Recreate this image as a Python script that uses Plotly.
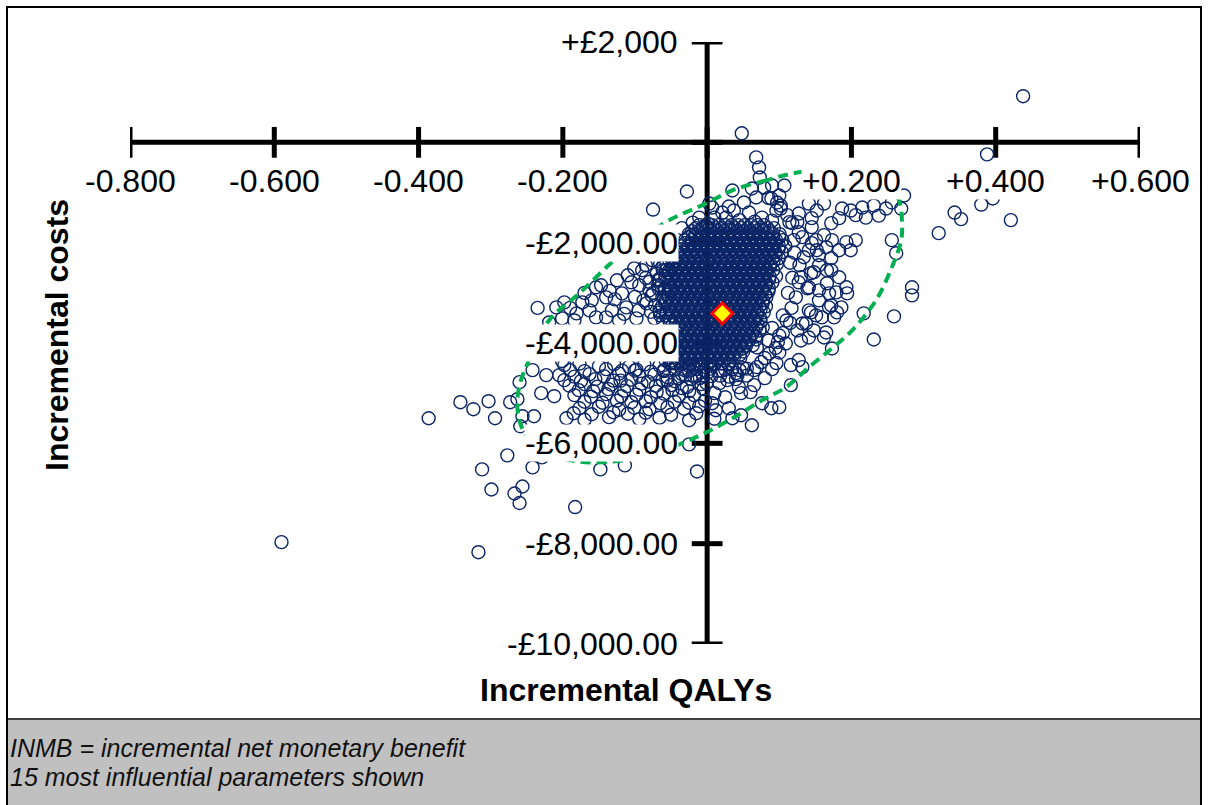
import plotly.graph_objects as go

# ---------------- data ----------------
# sparse points, upper / right part of the cloud
upper_qaly = [0.438, 0.048, 0.388, 0.068, 0.072, 0.073, 0.062, -0.028, 0.035, 0.090,
              0.107, 0.100, 0.085, 0.273, 0.396, 0.068, 0.097, 0.051, 0.003, 0.141,
              0.162, 0.256, 0.380, 0.102, -0.075, 0.187, 0.199, 0.231, 0.269, 0.343,
              0.238, 0.152, 0.206, 0.352, 0.421, 0.127, 0.220, 0.321, 0.248, 0.215]
upper_cost = [920, 180, -240, -300, -500, -700, -920, -980, -960, -860,
              -860, -1060, -1110, -1060, -1120, -1100, -1200, -1200, -1220, -1220,
              -1220, -1200, -1240, -1320, -1340, -1320, -1360, -1260, -1320, -1400,
              -1460, -1360, -1450, -1530, -1550, -1420, -1500, -1810, -1320, -1300]

right_qaly = [0.183, 0.172, 0.145, 0.114, 0.145, 0.162, 0.173, 0.193, 0.206, 0.199,
              0.183, 0.165, 0.151, 0.132, 0.172, 0.155, 0.141, 0.256, 0.262, 0.284,
              0.284, 0.259, 0.217, 0.172, 0.183, 0.193, 0.179, 0.194, 0.166, 0.148,
              0.130, 0.141, 0.123, 0.155, 0.141, 0.172, 0.176, 0.231, 0.173, 0.165,
              0.180, 0.125, 0.127, 0.145, 0.152, 0.134, 0.155, 0.166, 0.144, 0.127,
              0.139, 0.155, 0.169, 0.169, 0.186, 0.159, 0.144, 0.132, 0.148, 0.162,
              0.130, 0.115, 0.118, 0.112, 0.117, 0.110, 0.105, 0.098, 0.125, 0.137,
              0.141, 0.109, 0.100, 0.086, 0.069, 0.151, 0.090, 0.100, 0.085, 0.095,
              0.080, 0.115, 0.105, 0.121, 0.128, 0.120]
right_cost = [-1510, -1610, -1510, -1590, -1690, -1850, -1950, -1990, -1950, -2150,
              -2150, -2090, -1950, -1890, -2310, -2250, -2150, -1950, -2210, -2890,
              -3050, -3470, -3410, -2550, -2690, -2890, -2990, -3010, -2810, -2590,
              -2690, -2890, -3090, -3150, -3350, -3250, -3490, -3930, -4110, -3790,
              -3390, -1590, -1790, -2010, -2150, -2290, -2450, -2550, -2610, -2790,
              -2910, -2950, -3010, -3290, -3290, -3490, -3390, -3610, -3750, -3890,
              -3950, -2400, -2700, -3000, -3300, -3550, -3800, -3980, -3750, -3610,
              -3890, -4010, -4190, -4210, -4090, -3450, -3700, -3850, -3950, -4100,
              -4300, -3600, -3450, -2200, -2450, -1950]

lower_right_qaly = [0.116, 0.100, 0.089, 0.076, 0.062, 0.047, 0.035, 0.012, 0.007, 0.065,
                    0.069, 0.096, 0.116, 0.127, 0.132, 0.065, 0.044, 0.047, 0.028, 0.017,
                    -0.001, 0.010, 0.075, 0.090, 0.055, 0.040, 0.025, 0.060, 0.080, 0.030]
lower_right_cost = [-4840, -5280, -5300, -5200, -5640, -5440, -5500, -5340, -5200, -4540,
                    -4480, -4400, -4440, -4340, -4480, -4840, -4880, -5000, -4740, -4800,
                    -4800, -5000, -4380, -4520, -4650, -4720, -5080, -4980, -4700, -5300]

top_qaly = [0.058, 0.079, 0.089, 0.102, 0.096, 0.037, 0.021, 0.010, 0.076, 0.111,
            0.118, -0.011, -0.035, 0.007, 0.026, 0.045, 0.066, 0.090, -0.020, 0.001,
            0.030]
top_cost = [-1400, -900, -1120, -1260, -1360, -1360, -1400, -1500, -1500, -1450,
            -1610, -1500, -1710, -1300, -1500, -1550, -1580, -1560, -1600, -1620,
            -1280]

left_sparse_qaly = [-0.386, -0.342, -0.324, -0.303, -0.294, -0.273, -0.263, -0.260, -0.256, -0.240,
                    -0.259, -0.230, -0.212, -0.242, -0.223, -0.277, -0.312, -0.242, -0.299, -0.267,
                    -0.256, -0.260, -0.590, -0.317, -0.183, -0.201, -0.229, -0.148, -0.114, -0.025,
                    -0.014]
left_sparse_cost = [-5500, -5180, -5320, -5160, -5500, -5180, -5120, -4780, -5460, -5460,
                    -5660, -5000, -5060, -4540, -4640, -6240, -6520, -6480, -6920, -7000,
                    -6860, -7190, -7970, -8170, -7270, -4360, -6280, -6520, -6440, -6020,
                    -6560]

left_band_qaly = [-0.219, -0.209, -0.198, -0.173, -0.163, -0.154, -0.147, -0.140, -0.125, -0.118,
                  -0.101, -0.105, -0.090, -0.094, -0.076, -0.066, -0.057, -0.053, -0.112, -0.132,
                  -0.084, -0.066, -0.154, -0.181, -0.140, -0.122, -0.098, -0.184, -0.201, -0.080,
                  -0.073, -0.128, -0.077, -0.110, -0.135, -0.085, -0.235, -0.170, -0.190, -0.160,
                  -0.115, -0.095, -0.085, -0.065, -0.100,
                  -0.062, -0.070, -0.068, -0.075, -0.072, -0.065, -0.080, -0.088, -0.078]
left_band_cost = [-3590, -3290, -3190, -3190, -3350, -2890, -2850, -3090, -2750, -3010,
                  -2510, -2790, -2550, -2850, -2350, -2750, -2550, -2950, -3290, -3350,
                  -3210, -3350, -3490, -3410, -3490, -3550, -3510, -3550, -3510, -2950,
                  -3510, -3130, -3050, -2650, -2960, -2700, -3300, -3000, -3300, -3150,
                  -3420, -3350, -2450, -2420, -3080,
                  -2480, -2620, -2850, -3000, -3250, -3450, -2780, -3150, -3380]

lower_left_qaly = [-0.198, -0.177, -0.150, -0.129, -0.108, -0.087, -0.066, -0.046, -0.025, -0.011,
                   -0.205, -0.184, -0.163, -0.143, -0.122, -0.094, -0.073, -0.055, -0.035, -0.015,
                   -0.191, -0.170, -0.152, -0.133, -0.111, -0.091, -0.071, -0.050, -0.028, -0.008,
                   -0.184, -0.161, -0.140, -0.119, -0.098, -0.078, -0.060, -0.039, -0.018,
                   -0.177, -0.150, -0.122, -0.101, -0.080, -0.055, -0.032, -0.011,
                   -0.195, -0.170, -0.136, -0.094, -0.066, -0.025, 0.010,
                   -0.050, -0.030, -0.060, -0.040, -0.020, 0.000, 0.005, 0.020, 0.030, 0.040,
                   0.050, -0.010, -0.055, -0.035, -0.100, -0.120,
                   -0.190, -0.170, -0.140, -0.118, -0.098, -0.078, -0.060,
                   -0.198, -0.175, -0.155, -0.130, -0.105, -0.082, -0.062, -0.045, -0.022,
                   -0.178, -0.158, -0.137, -0.115, -0.094, -0.070, -0.048, -0.025, -0.005,
                   -0.170, -0.145, -0.125, -0.105, -0.085, -0.065, -0.045, -0.025, -0.003,
                   -0.185, -0.160, -0.130, -0.110, -0.085, -0.050, -0.015,
                   -0.045, -0.035, -0.025, -0.015, -0.005, 0.005, 0.015, 0.025, 0.035, 0.045, 0.055,
                   -0.030, -0.018, -0.006, 0.006, 0.018, 0.030, 0.042]
lower_left_cost = [-4440, -4410, -4460, -4420, -4470, -4430, -4450, -4400, -4460, -4420,
                   -4640, -4670, -4620, -4660, -4610, -4650, -4630, -4680, -4620, -4660,
                   -4850, -4820, -4870, -4830, -4860, -4810, -4850, -4840, -4880, -4820,
                   -5040, -5070, -5020, -5060, -5030, -5080, -5010, -5050, -5040,
                   -5300, -5270, -5330, -5290, -5320, -5280, -5310, -5260,
                   -5500, -5530, -5480, -5520, -5490, -5540, -5510,
                   -4400, -4550, -4560, -4700, -4450, -4600, -4450, -4550, -4420, -4600,
                   -4500, -4700, -4750, -4900, -4550, -4750,
                   -4540, -4560, -4520, -4550, -4530, -4570, -4540,
                   -4740, -4760, -4720, -4750, -4730, -4770, -4740, -4760, -4720,
                   -4940, -4960, -4920, -4950, -4930, -4970, -4940, -4960, -4920,
                   -5170, -5190, -5150, -5180, -5160, -5200, -5170, -5190, -5150,
                   -5400, -5420, -5380, -5410, -5390, -5430, -5400,
                   -4530, -4510, -4550, -4520, -4540, -4510, -4550, -4530, -4520, -4540, -4510,
                   -4650, -4670, -4640, -4660, -4650, -4670, -4640]

# dense core of the cloud, row by row (cost of the row, QALYs along the row)
core_row_cost = [-1650, -1710, -1770, -1830, -1890, -1950, -2010, -2070, -2130, -2190,
                 -2250, -2310, -2370, -2430, -2490, -2550, -2610, -2670, -2730, -2790,
                 -2850, -2910, -2970, -3030, -3090, -3150, -3210, -3270, -3330, -3390,
                 -3450, -3510, -3570, -3630, -3690, -3750, -3810, -3870, -3930, -3990,
                 -4050, -4110, -4170, -4230, -4290, -4350, -4410]
core_row_qaly = [
    [-0.011, -0.002, 0.007, 0.016, 0.025, 0.034, 0.043, 0.052, 0.061, 0.070, 0.079],
    [-0.0155, -0.0065, 0.0025, 0.0115, 0.0205, 0.0295, 0.0385, 0.0475, 0.0565, 0.0655, 0.0745, 0.0835, 0.0925],
    [-0.021, -0.012, -0.003, 0.006, 0.015, 0.024, 0.033, 0.042, 0.051, 0.060, 0.069, 0.078, 0.087],
    [-0.0255, -0.0165, -0.0075, 0.0015, 0.0105, 0.0195, 0.0285, 0.0375, 0.0465, 0.0555, 0.0645, 0.0735, 0.0825, 0.0915, 0.1005],
    [-0.026, -0.017, -0.008, 0.001, 0.010, 0.019, 0.028, 0.037, 0.046, 0.055, 0.064, 0.073, 0.082, 0.091, 0.100],
    [-0.0305, -0.0215, -0.0125, -0.0035, 0.0055, 0.0145, 0.0235, 0.0325, 0.0415, 0.0505, 0.0595, 0.0685, 0.0775, 0.0865, 0.0955, 0.1045],
    [-0.031, -0.022, -0.013, -0.004, 0.005, 0.014, 0.023, 0.032, 0.041, 0.050, 0.059, 0.068, 0.077, 0.086, 0.095],
    [-0.0355, -0.0265, -0.0175, -0.0085, 0.0005, 0.0095, 0.0185, 0.0275, 0.0365, 0.0455, 0.0545, 0.0635, 0.0725, 0.0815, 0.0905, 0.0995, 0.1085],
    [-0.036, -0.027, -0.018, -0.009, 0.000, 0.009, 0.018, 0.027, 0.036, 0.045, 0.054, 0.063, 0.072, 0.081, 0.090, 0.099],
    [-0.0405, -0.0315, -0.0225, -0.0135, -0.0045, 0.0045, 0.0135, 0.0225, 0.0315, 0.0405, 0.0495, 0.0585, 0.0675, 0.0765, 0.0855, 0.0945, 0.1035],
    [-0.040, -0.031, -0.022, -0.013, -0.004, 0.005, 0.014, 0.023, 0.032, 0.041, 0.050, 0.059, 0.068, 0.077, 0.086, 0.095],
    [-0.0445, -0.0355, -0.0265, -0.0175, -0.0085, 0.0005, 0.0095, 0.0185, 0.0275, 0.0365, 0.0455, 0.0545, 0.0635, 0.0725, 0.0815, 0.0905, 0.0995],
    [-0.052, -0.043, -0.034, -0.025, -0.016, -0.007, 0.002, 0.011, 0.020, 0.029, 0.038, 0.047, 0.056, 0.065, 0.074, 0.083, 0.092],
    [-0.0565, -0.0475, -0.0385, -0.0295, -0.0205, -0.0115, -0.0025, 0.0065, 0.0155, 0.0245, 0.0335, 0.0425, 0.0515, 0.0605, 0.0695, 0.0785, 0.0875, 0.0965],
    [-0.048, -0.039, -0.030, -0.021, -0.012, -0.003, 0.006, 0.015, 0.024, 0.033, 0.042, 0.051, 0.060, 0.069, 0.078, 0.087],
    [-0.0615, -0.0525, -0.0435, -0.0345, -0.0255, -0.0165, -0.0075, 0.0015, 0.0105, 0.0195, 0.0285, 0.0375, 0.0465, 0.0555, 0.0645, 0.0735, 0.0825, 0.0915],
    [-0.053, -0.044, -0.035, -0.026, -0.017, -0.008, 0.001, 0.010, 0.019, 0.028, 0.037, 0.046, 0.055, 0.064, 0.073, 0.082],
    [-0.0575, -0.0485, -0.0395, -0.0305, -0.0215, -0.0125, -0.0035, 0.0055, 0.0145, 0.0235, 0.0325, 0.0415, 0.0505, 0.0595, 0.0685, 0.0775, 0.0865, 0.0955],
    [-0.067, -0.058, -0.049, -0.040, -0.031, -0.022, -0.013, -0.004, 0.005, 0.014, 0.023, 0.032, 0.041, 0.050, 0.059, 0.068, 0.077, 0.086],
    [-0.0535, -0.0445, -0.0355, -0.0265, -0.0175, -0.0085, 0.0005, 0.0095, 0.0185, 0.0275, 0.0365, 0.0455, 0.0545, 0.0635, 0.0725, 0.0815, 0.0905],
    [-0.054, -0.045, -0.036, -0.027, -0.018, -0.009, 0.000, 0.009, 0.018, 0.027, 0.036, 0.045, 0.054, 0.063, 0.072, 0.081],
    [-0.0675, -0.0585, -0.0495, -0.0405, -0.0315, -0.0225, -0.0135, -0.0045, 0.0045, 0.0135, 0.0225, 0.0315, 0.0405, 0.0495, 0.0585, 0.0675, 0.0765, 0.0855],
    [-0.059, -0.050, -0.041, -0.032, -0.023, -0.014, -0.005, 0.004, 0.013, 0.022, 0.031, 0.040, 0.049, 0.058, 0.067, 0.076, 0.085],
    [-0.0545, -0.0455, -0.0365, -0.0275, -0.0185, -0.0095, -0.0005, 0.0085, 0.0175, 0.0265, 0.0355, 0.0445, 0.0535, 0.0625, 0.0715, 0.0805],
    [-0.062, -0.053, -0.044, -0.035, -0.026, -0.017, -0.008, 0.001, 0.010, 0.019, 0.028, 0.037, 0.046, 0.055, 0.064, 0.073, 0.082],
    [-0.0575, -0.0485, -0.0395, -0.0305, -0.0215, -0.0125, -0.0035, 0.0055, 0.0145, 0.0235, 0.0325, 0.0415, 0.0505, 0.0595, 0.0685, 0.0775],
    [-0.058, -0.049, -0.040, -0.031, -0.022, -0.013, -0.004, 0.005, 0.014, 0.023, 0.032, 0.041, 0.050, 0.059, 0.068, 0.077],
    [-0.0625, -0.0535, -0.0445, -0.0355, -0.0265, -0.0175, -0.0085, 0.0005, 0.0095, 0.0185, 0.0275, 0.0365, 0.0455, 0.0545, 0.0635, 0.0725, 0.0815],
    [-0.052, -0.043, -0.034, -0.025, -0.016, -0.007, 0.002, 0.011, 0.020, 0.029, 0.038, 0.047, 0.056, 0.065, 0.074],
    [-0.0655, -0.0565, -0.0475, -0.0385, -0.0295, -0.0205, -0.0115, -0.0025, 0.0065, 0.0155, 0.0245, 0.0335, 0.0425, 0.0515, 0.0605, 0.0695, 0.0785],
    [-0.057, -0.048, -0.039, -0.030, -0.021, -0.012, -0.003, 0.006, 0.015, 0.024, 0.033, 0.042, 0.051, 0.060, 0.069],
    [-0.0525, -0.0435, -0.0345, -0.0255, -0.0165, -0.0075, 0.0015, 0.0105, 0.0195, 0.0285, 0.0375, 0.0465, 0.0555, 0.0645, 0.0735],
    [-0.061, -0.052, -0.043, -0.034, -0.025, -0.016, -0.007, 0.002, 0.011, 0.020, 0.029, 0.038, 0.047, 0.056, 0.065, 0.074],
    [-0.0475, -0.0385, -0.0295, -0.0205, -0.0115, -0.0025, 0.0065, 0.0155, 0.0245, 0.0335, 0.0425, 0.0515, 0.0605, 0.0695],
    [-0.040, -0.031, -0.022, -0.013, -0.004, 0.005, 0.014, 0.023, 0.032, 0.041, 0.050, 0.059, 0.068, 0.077],
    [-0.0445, -0.0355, -0.0265, -0.0175, -0.0085, 0.0005, 0.0095, 0.0185, 0.0275, 0.0365, 0.0455, 0.0545, 0.0635, 0.0725],
    [-0.036, -0.027, -0.018, -0.009, 0.000, 0.009, 0.018, 0.027, 0.036, 0.045, 0.054, 0.063],
    [-0.0405, -0.0315, -0.0225, -0.0135, -0.0045, 0.0045, 0.0135, 0.0225, 0.0315, 0.0405, 0.0495, 0.0585, 0.0675],
    [-0.040, -0.031, -0.022, -0.013, -0.004, 0.005, 0.014, 0.023, 0.032, 0.041, 0.050, 0.059, 0.068],
    [-0.0445, -0.0355, -0.0265, -0.0175, -0.0085, 0.0005, 0.0095, 0.0185, 0.0275, 0.0365, 0.0455, 0.0545],
    [-0.045, -0.036, -0.027, -0.018, -0.009, 0.000, 0.009, 0.018, 0.027, 0.036, 0.045, 0.054, 0.063],
    [-0.0495, -0.0405, -0.0315, -0.0225, -0.0135, -0.0045, 0.0045, 0.0135, 0.0225, 0.0315, 0.0405, 0.0495],
    [-0.049, -0.040, -0.031, -0.022, -0.013, -0.004, 0.005, 0.014, 0.023, 0.032, 0.041, 0.050],
    [-0.0535, -0.0445, -0.0355, -0.0265, -0.0175, -0.0085, 0.0005, 0.0095, 0.0185, 0.0275, 0.0365, 0.0455],
    [-0.053, -0.044, -0.035, -0.026, -0.017, -0.008, 0.001, 0.010, 0.019, 0.028, 0.037, 0.046],
    [-0.0575, -0.0485, -0.0395, -0.0305, -0.0215, -0.0125, -0.0035, 0.0055, 0.0145, 0.0235, 0.0325],
    [-0.052, -0.043, -0.034, -0.025, -0.016, -0.007, 0.002, 0.011, 0.020, 0.029],
]

# mean of the simulations
mean_qaly = [0.021]
mean_cost = [-3410]

# 95% confidence ellipse, traced around the picture
ellipse_qaly = [0.127, 0.082, 0.035, -0.001, -0.053, -0.094, -0.132, -0.177, -0.219, -0.247,
                -0.260, -0.263, -0.255, -0.229, -0.181, -0.126, -0.080, -0.035, -0.001, 0.035,
                0.076, 0.109, 0.141, 0.173, 0.201, 0.234, 0.256, 0.269, 0.270, 0.266,
                0.252, 0.224, 0.183, 0.127]
ellipse_cost = [-598, -757, -957, -1216, -1555, -1953, -2392, -3010, -3548, -4345,
                -4843, -5301, -5739, -6138, -6358, -6358, -6238, -5999, -5780, -5501,
                -5142, -4883, -4484, -4106, -3747, -3149, -2491, -1953, -1555, -1156,
                -857, -658, -558, -598]

# axes
x_tick_marks = [-0.8, -0.6, -0.4, -0.2, 0.0, 0.2, 0.4, 0.6]
x_tick_vals = [-0.8, -0.6, -0.4, -0.2, 0.2, 0.4, 0.6]
x_tick_text = ["-0.800", "-0.600", "-0.400", "-0.200", "+0.200", "+0.400", "+0.600"]
y_tick_marks = [2000, 0, -2000, -4000, -6000, -8000, -10000]
y_tick_vals = [2000, -2000, -4000, -6000, -8000, -10000]
y_tick_text = ["+£2,000", "-£2,000.00", "-£4,000.00", "-£6,000.00", "-£8,000.00", "-£10,000.00"]
x_range = [-0.8, 0.6]
y_range = [-10000, 2000]

x_title = "Incremental QALYs"
y_title = "Incremental costs"
notes = ["INMB = incremental net monetary benefit", "15 most influential parameters shown"]

# ---------------- assemble ----------------
groups = [(upper_qaly, upper_cost), (right_qaly, right_cost), (lower_right_qaly, lower_right_cost),
          (top_qaly, top_cost), (left_sparse_qaly, left_sparse_cost), (left_band_qaly, left_band_cost),
          (lower_left_qaly, lower_left_cost)]
qaly, cost = [], []
for gx, gy in groups:
    assert len(gx) == len(gy), (len(gx), len(gy))
    qaly += gx
    cost += gy
assert len(core_row_cost) == len(core_row_qaly), (len(core_row_cost), len(core_row_qaly))
for c, row in zip(core_row_cost, core_row_qaly):
    qaly += row
    cost += [c] * len(row)
assert len(ellipse_qaly) == len(ellipse_cost)

W, H = 1208, 805
FONT = "Liberation Sans, Arial, sans-serif"
NAVY = "#0b2566"

fig = go.Figure()
# axis lines drawn through the origin
fig.add_trace(go.Scatter(x=x_range, y=[0, 0], mode="lines", line=dict(color="black", width=5),
                         hoverinfo="skip", showlegend=False))
fig.add_trace(go.Scatter(x=[0, 0], y=y_range, mode="lines", line=dict(color="black", width=5),
                         hoverinfo="skip", showlegend=False))
fig.add_trace(go.Scatter(x=x_tick_marks, y=[0] * len(x_tick_marks), mode="markers",
                         marker=dict(symbol="line-ns", size=22, line=dict(color="black", width=5)),
                         hoverinfo="skip", showlegend=False))
fig.add_trace(go.Scatter(x=[0] * len(y_tick_marks), y=y_tick_marks, mode="markers",
                         marker=dict(symbol="line-ew", size=22, line=dict(color="black", width=5)),
                         hoverinfo="skip", showlegend=False))
# simulations
fig.add_trace(go.Scatter(x=qaly, y=cost, mode="markers",
                         marker=dict(symbol="circle", size=13, color="rgba(0,0,0,0)",
                                     line=dict(color=NAVY, width=1.4)),
                         showlegend=False))
# ellipse
fig.add_trace(go.Scatter(x=ellipse_qaly, y=ellipse_cost, mode="lines",
                         line=dict(color="#00b050", width=4, dash="10px,6px", shape="spline", smoothing=1.0),
                         hoverinfo="skip", showlegend=False))
# mean
fig.add_trace(go.Scatter(x=mean_qaly, y=mean_cost, mode="markers",
                         marker=dict(symbol="diamond", size=16, color="#ffff00",
                                     line=dict(color="#ff0000", width=3)),
                         showlegend=False))

ann = []
for v, t in zip(x_tick_vals, x_tick_text):
    ann.append(dict(x=v, y=0, xref="x", yref="y", text=t, showarrow=False, xanchor="center",
                    yanchor="middle", yshift=-39, bgcolor="white", borderpad=0,
                    font=dict(family=FONT, size=32, color="black")))
for v, t in zip(y_tick_vals, y_tick_text):
    ann.append(dict(x=0, y=v, xref="x", yref="y", text=t, showarrow=False, xanchor="right",
                    yanchor="middle", xshift=-28, bgcolor="white", borderpad=0,
                    font=dict(family=FONT, size=32, color="black")))
ann.append(dict(x=626 / W, y=1 - 690 / H, xref="paper", yref="paper", text="<b>" + x_title + "</b>",
                showarrow=False, xanchor="center", yanchor="middle",
                font=dict(family=FONT, size=32, color="black")))
ann.append(dict(x=57 / W, y=1 - 335 / H, xref="paper", yref="paper", text="<b>" + y_title + "</b>",
                showarrow=False, xanchor="center", yanchor="middle", textangle=-90,
                font=dict(family=FONT, size=32, color="black")))
for i, t in enumerate(notes):
    ann.append(dict(x=8 / W, y=1 - (748 + 29 * i) / H, xref="paper", yref="paper", text="<i>" + t + "</i>",
                    showarrow=False, xanchor="left", yanchor="middle",
                    font=dict(family=FONT, size=25, color="#111111")))

shapes = [
    dict(type="rect", xref="paper", yref="paper", x0=7 / W, x1=1201 / W, y0=-0.02, y1=1 - 719 / H,
         fillcolor="#c0c0c0", line=dict(color="#404040", width=2), layer="below"),
    dict(type="rect", xref="paper", yref="paper", x0=7 / W, x1=1201 / W, y0=-0.02, y1=1 - 7 / H,
         fillcolor="rgba(0,0,0,0)", line=dict(color="black", width=2)),
]

fig.update_layout(
    width=W, height=H, margin=dict(l=0, r=0, t=0, b=0),
    paper_bgcolor="white", plot_bgcolor="rgba(0,0,0,0)",
    xaxis=dict(range=x_range, domain=[130 / W, 1140 / W], visible=False, fixedrange=True),
    yaxis=dict(range=y_range, domain=[1 - 644 / H, 1 - 42 / H], visible=False, fixedrange=True),
    annotations=ann, shapes=shapes, showlegend=False,
)

fig.write_html("out.html", config={"displayModeBar": False},
               post_script="document.body.style.margin='0px';")
